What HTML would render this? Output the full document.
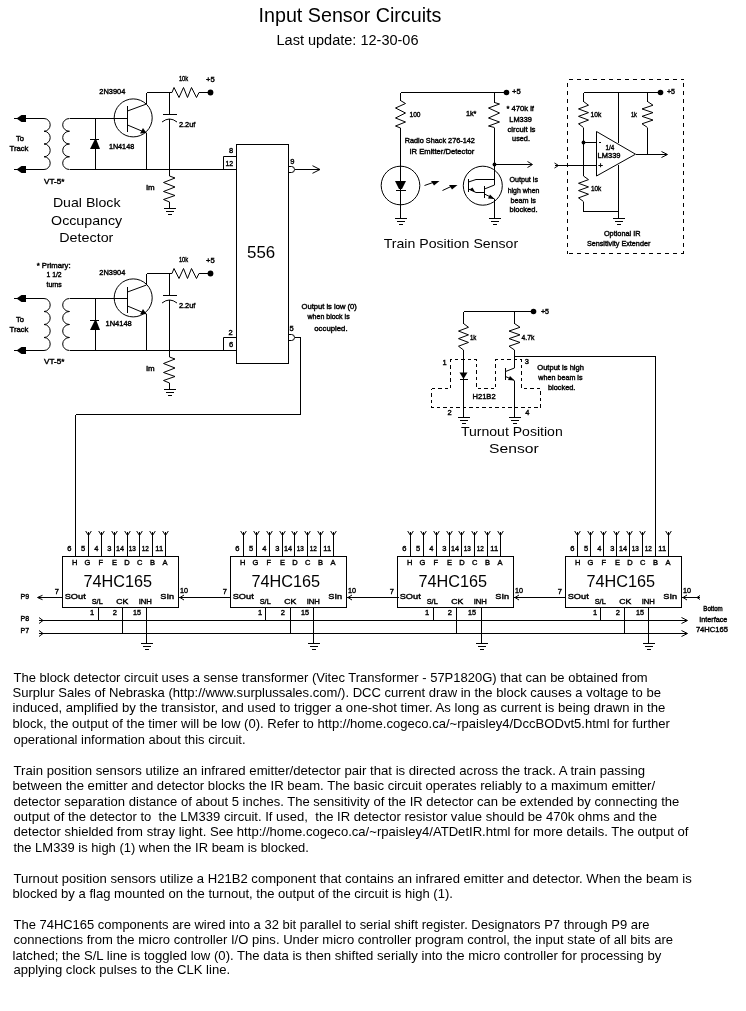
<!DOCTYPE html>
<html><head><meta charset="utf-8"><style>
html,body{margin:0;padding:0;background:#fff;width:746px;height:1011px;overflow:hidden}
svg{position:absolute;left:0;top:0;will-change:transform}
svg line,svg polyline,svg path,svg circle,svg rect{stroke:#000;stroke-width:1;fill:none}
svg .c{shape-rendering:crispEdges}
svg .n{shape-rendering:crispEdges}
svg .f{fill:#000;stroke:none}
svg circle.f{fill:#000;stroke:none}
svg .ol{fill:none;stroke:#000}
svg .p{}
svg .d{stroke-dasharray:3.5 3;shape-rendering:crispEdges}
svg .d4{stroke-dasharray:4 4;shape-rendering:crispEdges}
svg text{font-family:"Liberation Sans",sans-serif;fill:#000}
svg text.s{stroke:#000;stroke-width:0.4px}
svg text.m{}
.p{position:absolute;left:13px;font-family:"Liberation Sans",sans-serif;font-size:13px;line-height:15.4px;color:#000;white-space:pre}
</style></head><body>
<svg width="746" height="1011" viewBox="0 0 746 1011">
<polygon points="16.5,118.5 21.5,115.0 26,115.0 26,122.0 21.5,122.0" class="f"/>
<polygon points="16.5,169.5 21.5,166.0 26,166.0 26,173.0 21.5,173.0" class="f"/>
<line x1="14" y1="118.5" x2="44" y2="118.5" class="c"/>
<line x1="14" y1="169.5" x2="44" y2="169.5" class="c"/>
<path d="M 44 118.5 A 6.2 6.375 0 0 1 44 131.25 A 6.2 6.375 0 0 1 44 144.0 A 6.2 6.375 0 0 1 44 156.75 A 6.2 6.375 0 0 1 44 169.5"/>
<path d="M 69.5 118.5 A 6.8 6.375 0 0 0 69.5 131.25 A 6.8 6.375 0 0 0 69.5 144.0 A 6.8 6.375 0 0 0 69.5 156.75 A 6.8 6.375 0 0 0 69.5 169.5"/>
<line x1="69.5" y1="118.5" x2="127.5" y2="118.5" class="c"/>
<line x1="69.5" y1="169.5" x2="236.5" y2="169.5" class="c"/>
<line x1="95.5" y1="118.5" x2="95.5" y2="169.5" class="c"/>
<polygon points="94.5,140 96.5,140 100,149 90,149" class="f"/>
<line x1="90" y1="139.5" x2="99" y2="139.5" class="c"/>
<circle cx="133.2" cy="117.9" r="19"/>
<line x1="127.5" y1="105.5" x2="127.5" y2="131.5" class="c"/>
<polyline points="127.5,111 146.5,104"/>
<line x1="146.5" y1="104" x2="146.5" y2="92.5" class="c"/>
<line x1="146.5" y1="92.5" x2="169.5" y2="92.5" class="c"/>
<polyline points="127.5,125 146.5,133"/>
<polygon points="146.5,133 140,133.5 143,128" class="f"/>
<line x1="146.5" y1="133" x2="146.5" y2="169.5" class="c"/>
<line x1="169.5" y1="92.5" x2="172" y2="92.5" class="c"/>
<polyline points="172,92.5 174,87.5 179,97.5 183.5,87.5 187.5,97.5 191.5,87.5 196.5,97.5 199,92.5"/>
<line x1="199" y1="92.5" x2="210" y2="92.5" class="c"/>
<circle cx="210.5" cy="92.5" r="2.9" class="f"/>
<line x1="169.5" y1="92.5" x2="169.5" y2="114.5" class="c"/>
<line x1="163" y1="114.5" x2="177" y2="114.5" class="c"/>
<path d="M 162 122 Q 169.5 116 177 122"/>
<line x1="169.5" y1="119" x2="169.5" y2="169.5" class="c"/>
<line x1="169.5" y1="169.5" x2="169.5" y2="176" class="c"/>
<polyline points="169.5,176 175,178 163.5,182.5 175,187 163.5,191.5 175,195.5 163.5,199.5 169.5,202"/>
<line x1="169.5" y1="202" x2="169.5" y2="208.5" class="c"/>
<line x1="163.5" y1="208.5" x2="175.5" y2="208.5" class="c"/>
<line x1="165.5" y1="211.5" x2="173.5" y2="211.5" class="c"/>
<line x1="167.5" y1="214.5" x2="171.5" y2="214.5" class="c"/>
<text id="t0" x="99.30" y="94.10" class="s" style="font-size:7.2px" textLength="26.04" lengthAdjust="spacingAndGlyphs" xml:space="preserve">2N3904</text>
<text id="t1" x="108.90" y="149.00" class="s" style="font-size:7.2px" textLength="25.27" lengthAdjust="spacingAndGlyphs" xml:space="preserve">1N4148</text>
<text id="t2" x="178.90" y="81.00" class="s" style="font-size:7.2px" textLength="9.28" lengthAdjust="spacingAndGlyphs" xml:space="preserve">10k</text>
<text id="t3" x="206.10" y="82.00" class="s" style="font-size:7.2px" textLength="8.68" lengthAdjust="spacingAndGlyphs" xml:space="preserve">+5</text>
<text id="t4" x="178.90" y="126.70" class="s" style="font-size:7.2px" textLength="16.39" lengthAdjust="spacingAndGlyphs" xml:space="preserve">2.2uf</text>
<text id="t5" x="146.30" y="189.90" class="s" style="font-size:7.2px" textLength="8.39" lengthAdjust="spacingAndGlyphs" xml:space="preserve">lm</text>
<text id="t6" x="15.90" y="140.70" class="s" style="font-size:7.2px" textLength="7.99" lengthAdjust="spacingAndGlyphs" xml:space="preserve">To</text>
<text id="t7" x="9.50" y="150.70" class="s" style="font-size:7.2px" textLength="18.89" lengthAdjust="spacingAndGlyphs" xml:space="preserve">Track</text>
<text id="t8" x="44.10" y="183.90" class="s" style="font-size:7.2px" textLength="20.28" lengthAdjust="spacingAndGlyphs" xml:space="preserve">VT-5*</text>
<polygon points="16.5,298.5 21.5,295.0 26,295.0 26,302.0 21.5,302.0" class="f"/>
<polygon points="16.5,350.5 21.5,347.0 26,347.0 26,354.0 21.5,354.0" class="f"/>
<line x1="14" y1="298.5" x2="44" y2="298.5" class="c"/>
<line x1="14" y1="350.5" x2="44" y2="350.5" class="c"/>
<path d="M 44 298.5 A 6.2 6.5 0 0 1 44 311.5 A 6.2 6.5 0 0 1 44 324.5 A 6.2 6.5 0 0 1 44 337.5 A 6.2 6.5 0 0 1 44 350.5"/>
<path d="M 69.5 298.5 A 6.8 6.5 0 0 0 69.5 311.5 A 6.8 6.5 0 0 0 69.5 324.5 A 6.8 6.5 0 0 0 69.5 337.5 A 6.8 6.5 0 0 0 69.5 350.5"/>
<line x1="69.5" y1="298.5" x2="127.5" y2="298.5" class="c"/>
<line x1="69.5" y1="350.5" x2="236.5" y2="350.5" class="c"/>
<line x1="95.5" y1="298.5" x2="95.5" y2="350.5" class="c"/>
<polygon points="94.5,321 96.5,321 100,330 90,330" class="f"/>
<line x1="90" y1="320.5" x2="99" y2="320.5" class="c"/>
<circle cx="133.2" cy="297.9" r="19"/>
<line x1="127.5" y1="286.5" x2="127.5" y2="312.5" class="c"/>
<polyline points="127.5,292 146.5,285"/>
<line x1="146.5" y1="285" x2="146.5" y2="273.5" class="c"/>
<line x1="146.5" y1="273.5" x2="169.5" y2="273.5" class="c"/>
<polyline points="127.5,306 146.5,314"/>
<polygon points="146.5,314 140,314.5 143,309" class="f"/>
<line x1="146.5" y1="314" x2="146.5" y2="350.5" class="c"/>
<line x1="169.5" y1="273.5" x2="172" y2="273.5" class="c"/>
<polyline points="172,273.5 174,268.5 179,278.5 183.5,268.5 187.5,278.5 191.5,268.5 196.5,278.5 199,273.5"/>
<line x1="199" y1="273.5" x2="210" y2="273.5" class="c"/>
<circle cx="210.5" cy="273.5" r="2.9" class="f"/>
<line x1="169.5" y1="273.5" x2="169.5" y2="295.5" class="c"/>
<line x1="163" y1="295.5" x2="177" y2="295.5" class="c"/>
<path d="M 162 303 Q 169.5 297 177 303"/>
<line x1="169.5" y1="300" x2="169.5" y2="350.5" class="c"/>
<line x1="169.5" y1="350.5" x2="169.5" y2="357" class="c"/>
<polyline points="169.5,357 175,359 163.5,363.5 175,368 163.5,372.5 175,376.5 163.5,380.5 169.5,383"/>
<line x1="169.5" y1="383" x2="169.5" y2="389.5" class="c"/>
<line x1="163.5" y1="389.5" x2="175.5" y2="389.5" class="c"/>
<line x1="165.5" y1="392.5" x2="173.5" y2="392.5" class="c"/>
<line x1="167.5" y1="395.5" x2="171.5" y2="395.5" class="c"/>
<text id="t9" x="99.30" y="275.10" class="s" style="font-size:7.2px" textLength="26.04" lengthAdjust="spacingAndGlyphs" xml:space="preserve">2N3904</text>
<text id="t10" x="105.50" y="326.00" class="s" style="font-size:7.2px" textLength="26.28" lengthAdjust="spacingAndGlyphs" xml:space="preserve">1N4148</text>
<text id="t11" x="178.90" y="262.00" class="s" style="font-size:7.2px" textLength="9.28" lengthAdjust="spacingAndGlyphs" xml:space="preserve">10k</text>
<text id="t12" x="206.10" y="263.00" class="s" style="font-size:7.2px" textLength="8.68" lengthAdjust="spacingAndGlyphs" xml:space="preserve">+5</text>
<text id="t13" x="178.90" y="307.70" class="s" style="font-size:7.2px" textLength="16.39" lengthAdjust="spacingAndGlyphs" xml:space="preserve">2.2uf</text>
<text id="t14" x="146.30" y="370.90" class="s" style="font-size:7.2px" textLength="8.39" lengthAdjust="spacingAndGlyphs" xml:space="preserve">lm</text>
<text id="t15" x="15.90" y="321.70" class="s" style="font-size:7.2px" textLength="7.99" lengthAdjust="spacingAndGlyphs" xml:space="preserve">To</text>
<text id="t16" x="9.50" y="331.70" class="s" style="font-size:7.2px" textLength="18.89" lengthAdjust="spacingAndGlyphs" xml:space="preserve">Track</text>
<text id="t17" x="44.10" y="363.90" class="s" style="font-size:7.2px" textLength="20.28" lengthAdjust="spacingAndGlyphs" xml:space="preserve">VT-5*</text>
<text id="t18" x="36.70" y="267.50" class="s" style="font-size:7.2px" textLength="33.90" lengthAdjust="spacingAndGlyphs" xml:space="preserve">* Primary:</text>
<text id="t19" x="46.50" y="277.00" class="s" style="font-size:7.2px" textLength="15.17" lengthAdjust="spacingAndGlyphs" xml:space="preserve">1 1/2</text>
<text id="t20" x="46.50" y="287.00" class="s" style="font-size:7.2px" textLength="15.30" lengthAdjust="spacingAndGlyphs" xml:space="preserve">turns</text>
<text id="t21" x="52.90" y="207.20" class="m" style="font-size:13px" textLength="67.63" lengthAdjust="spacingAndGlyphs" xml:space="preserve">Dual Block</text>
<text id="t22" x="51.10" y="224.50" class="m" style="font-size:13px" textLength="71.07" lengthAdjust="spacingAndGlyphs" xml:space="preserve">Occupancy</text>
<text id="t23" x="59.30" y="242.30" class="m" style="font-size:13px" textLength="54.06" lengthAdjust="spacingAndGlyphs" xml:space="preserve">Detector</text>
<rect x="236.5" y="144.5" width="52" height="219" class="n"/>
<polyline points="236.5,156.5 223.5,156.5 223.5,169.5"/>
<polyline points="236.5,337.5 223.5,337.5 223.5,350.5"/>
<text id="t24" x="247.10" y="258.00" class="m" style="font-size:16px" textLength="28.15" lengthAdjust="spacingAndGlyphs" xml:space="preserve">556</text>
<text id="t25" x="229.10" y="153.10" class="s" style="font-size:7.5px" xml:space="preserve">8</text>
<text id="t26" x="225.50" y="166.20" class="s" style="font-size:7.5px" textLength="7.71" lengthAdjust="spacingAndGlyphs" xml:space="preserve">12</text>
<text id="t27" x="228.50" y="334.50" class="s" style="font-size:7.5px" xml:space="preserve">2</text>
<text id="t28" x="229.00" y="346.80" class="s" style="font-size:7.5px" xml:space="preserve">6</text>
<text id="t29" x="290.25" y="163.90" class="s" style="font-size:7.5px" xml:space="preserve">9</text>
<text id="t30" x="289.60" y="330.50" class="s" style="font-size:7.5px" xml:space="preserve">5</text>
<path d="M 288.5 166.5 H 291.5 Q 294.5 166.5 294.5 169.5 Q 294.5 172.5 291.5 172.5 H 288.5"/>
<line x1="294.5" y1="169.5" x2="320" y2="169.5" class="c"/>
<polyline points="312.5,165.7 320,169.5 312.5,173.3"/>
<path d="M 288.5 334.5 H 291.5 Q 294.5 334.5 294.5 337.5 Q 294.5 340.5 291.5 340.5 H 288.5"/>
<line x1="294.5" y1="337.5" x2="300.5" y2="337.5" class="c"/>
<line x1="300.5" y1="337.5" x2="300.5" y2="414.5" class="c"/>
<line x1="300.5" y1="414.5" x2="75.5" y2="414.5" class="c"/>
<line x1="75.5" y1="414.5" x2="75.5" y2="556.5" class="c"/>
<text id="t31" x="301.50" y="309.20" class="s" style="font-size:7.2px" textLength="55.29" lengthAdjust="spacingAndGlyphs" xml:space="preserve">Output is low (0)</text>
<text id="t32" x="307.50" y="319.00" class="s" style="font-size:7.2px" textLength="42.16" lengthAdjust="spacingAndGlyphs" xml:space="preserve">when block is</text>
<text id="t33" x="314.30" y="330.90" class="s" style="font-size:7.2px" textLength="33.26" lengthAdjust="spacingAndGlyphs" xml:space="preserve">occupied.</text>
<text id="t34" x="258.50" y="21.60" class="mt" style="font-size:21px" textLength="182.84" lengthAdjust="spacingAndGlyphs" xml:space="preserve">Input Sensor Circuits</text>
<text id="t35" x="276.50" y="45.48" class="m" style="font-size:14px" textLength="142.02" lengthAdjust="spacingAndGlyphs" xml:space="preserve">Last update: 12-30-06</text>
<line x1="400.5" y1="92.5" x2="506" y2="92.5" class="c"/>
<circle cx="506.5" cy="92.5" r="2.8" class="f"/>
<text id="t36" x="512.10" y="94.40" class="s" style="font-size:7.2px" textLength="8.69" lengthAdjust="spacingAndGlyphs" xml:space="preserve">+5</text>
<line x1="400.5" y1="92.5" x2="400.5" y2="100.5" class="c"/>
<polyline points="400.5,100.5 405.5,103.5 395.5,108 405.5,113 395.5,118 405.5,122 395.5,126 400.5,128"/>
<line x1="400.5" y1="128" x2="400.5" y2="218.5" class="c"/>
<circle cx="400.5" cy="185.5" r="19.3"/>
<polygon points="395,181 406,181 402,189 399,189" class="f"/>
<line x1="396" y1="190.5" x2="406" y2="190.5" class="c"/>
<line x1="394.5" y1="218.5" x2="406.5" y2="218.5" class="c"/>
<line x1="396.5" y1="221.5" x2="404.5" y2="221.5" class="c"/>
<line x1="398.5" y1="224.5" x2="402.5" y2="224.5" class="c"/>
<text id="t37" x="409.50" y="116.50" class="s" style="font-size:7.2px" textLength="11.00" lengthAdjust="spacingAndGlyphs" xml:space="preserve">100</text>
<text id="t38" x="404.70" y="143.00" class="s" style="font-size:7.2px" textLength="70.23" lengthAdjust="spacingAndGlyphs" xml:space="preserve">Radio Shack 276-142</text>
<text id="t39" x="409.50" y="154.20" class="s" style="font-size:7.2px" textLength="64.81" lengthAdjust="spacingAndGlyphs" xml:space="preserve">IR Emitter/Detector</text>
<line x1="424.5" y1="185.5" x2="433" y2="182.5"/>
<polygon points="431,181 439.5,181 434,185.5" class="f"/>
<line x1="442.5" y1="190.5" x2="451" y2="186.5"/>
<polygon points="449,185 457.5,185 452,189.5" class="f"/>
<line x1="494.5" y1="92.5" x2="494.5" y2="102.5" class="c"/>
<polyline points="494.5,102.5 499.5,104 488.5,108 499.5,113 488.5,118 499.5,122 488.5,126 494.5,127.5"/>
<line x1="494.5" y1="127.5" x2="494.5" y2="178.5" class="c"/>
<circle cx="494.5" cy="164.5" r="1.9" class="f"/>
<line x1="494.5" y1="164.5" x2="532" y2="164.5" class="c"/>
<polyline points="527.5,161.5 532.5,164.5 527.5,167.5"/>
<text id="t40" x="465.90" y="115.80" class="s" style="font-size:7.2px" textLength="10.54" lengthAdjust="spacingAndGlyphs" xml:space="preserve">1k*</text>
<text id="t41" x="506.50" y="110.60" class="s" style="font-size:7.2px" textLength="27.47" lengthAdjust="spacingAndGlyphs" xml:space="preserve">* 470k if</text>
<text id="t42" x="509.30" y="121.90" class="s" style="font-size:7.2px" textLength="22.65" lengthAdjust="spacingAndGlyphs" xml:space="preserve">LM339</text>
<text id="t43" x="507.50" y="131.60" class="s" style="font-size:7.2px" textLength="28.00" lengthAdjust="spacingAndGlyphs" xml:space="preserve">circuit is</text>
<text id="t44" x="512.10" y="141.00" class="s" style="font-size:7.2px" textLength="17.84" lengthAdjust="spacingAndGlyphs" xml:space="preserve">used.</text>
<circle cx="482.8" cy="185.7" r="19.5"/>
<line x1="468.5" y1="179" x2="468.5" y2="191.5" class="c"/>
<polyline points="468.5,182 476,179.5 494.5,179.5"/>
<polyline points="468.5,189 476,192.5 484.5,192.5"/>
<polygon points="475,192 469.5,189.5 472.5,187.5" class="f"/>
<line x1="484.5" y1="185.5" x2="484.5" y2="197.5" class="c"/>
<polyline points="484.5,189 494.5,185 494.5,178.5"/>
<polyline points="484.5,194 494.5,199"/>
<polygon points="494.5,199 488,198.5 490,194.5" class="f"/>
<line x1="494.5" y1="199" x2="494.5" y2="218.5" class="c"/>
<line x1="488.5" y1="218.5" x2="500.5" y2="218.5" class="c"/>
<line x1="490.5" y1="221.5" x2="498.5" y2="221.5" class="c"/>
<line x1="492.5" y1="224.5" x2="496.5" y2="224.5" class="c"/>
<text id="t45" x="509.50" y="181.90" class="s" style="font-size:7.2px" textLength="28.45" lengthAdjust="spacingAndGlyphs" xml:space="preserve">Output is</text>
<text id="t46" x="507.70" y="192.70" class="s" style="font-size:7.2px" textLength="31.70" lengthAdjust="spacingAndGlyphs" xml:space="preserve">high when</text>
<text id="t47" x="510.50" y="202.60" class="s" style="font-size:7.2px" textLength="25.44" lengthAdjust="spacingAndGlyphs" xml:space="preserve">beam is</text>
<text id="t48" x="509.50" y="212.00" class="s" style="font-size:7.2px" textLength="28.00" lengthAdjust="spacingAndGlyphs" xml:space="preserve">blocked.</text>
<text id="t49" x="383.70" y="248.08" class="m" style="font-size:13.3px" textLength="134.43" lengthAdjust="spacingAndGlyphs" xml:space="preserve">Train Position Sensor</text>
<line x1="569" y1="79.5" x2="684" y2="79.5" class="d4"/>
<line x1="567.5" y1="82.5" x2="567.5" y2="254" class="d4"/>
<line x1="683.5" y1="82.5" x2="683.5" y2="254" class="d4"/>
<line x1="569" y1="253.5" x2="684" y2="253.5" class="d4"/>
<line x1="583.5" y1="92.5" x2="660" y2="92.5" class="c"/>
<circle cx="660.5" cy="92.5" r="2.8" class="f"/>
<text id="t50" x="666.90" y="94.00" class="s" style="font-size:7.2px" textLength="8.08" lengthAdjust="spacingAndGlyphs" xml:space="preserve">+5</text>
<line x1="583.5" y1="92.5" x2="583.5" y2="101.5" class="c"/>
<polyline points="583.5,101.5 588.5,105.21 578.5,108.93 588.5,112.64 578.5,116.36 588.5,120.07 578.5,123.79 583.5,127.5"/>
<line x1="583.5" y1="127.5" x2="583.5" y2="176" class="c"/>
<circle cx="583.5" cy="142.5" r="1.9" class="f"/>
<line x1="583.5" y1="142.5" x2="596.5" y2="142.5" class="c"/>
<polyline points="583.5,176 588.5,179.64 578.5,183.29 588.5,186.93 578.5,190.57 588.5,194.21 578.5,197.86 583.5,201.5"/>
<line x1="583.5" y1="201.5" x2="583.5" y2="211.5" class="c"/>
<line x1="583.5" y1="211.5" x2="618.5" y2="211.5" class="c"/>
<line x1="618.5" y1="92.5" x2="618.5" y2="143" class="c"/>
<line x1="618.5" y1="165" x2="618.5" y2="218.5" class="c"/>
<line x1="612.5" y1="218.5" x2="624.5" y2="218.5" class="c"/>
<line x1="614.5" y1="221.5" x2="622.5" y2="221.5" class="c"/>
<line x1="616.5" y1="224.5" x2="620.5" y2="224.5" class="c"/>
<line x1="647.5" y1="92.5" x2="647.5" y2="101.5" class="c"/>
<polyline points="647.5,101.5 653.0,105.21 642.0,108.93 653.0,112.64 642.0,116.36 653.0,120.07 642.0,123.79 647.5,127.5"/>
<line x1="647.5" y1="127.5" x2="647.5" y2="154.5" class="c"/>
<polygon points="596.5,131.5 635.5,154.2 596.5,176" class="ol"/>
<line x1="636" y1="154.5" x2="667" y2="154.5" class="c"/>
<polyline points="661.5,151.5 667.5,154.5 661.5,157.5"/>
<line x1="555" y1="165.5" x2="596.5" y2="165.5" class="c"/>
<polyline points="554.5,163.0 558.5,165.5 554.5,168.0"/>
<text id="t51" x="590.50" y="116.90" class="s" style="font-size:7.2px" textLength="10.71" lengthAdjust="spacingAndGlyphs" xml:space="preserve">10k</text>
<text id="t52" x="630.90" y="116.90" class="s" style="font-size:7.2px" textLength="6.05" lengthAdjust="spacingAndGlyphs" xml:space="preserve">1k</text>
<text id="t53" x="590.90" y="190.60" class="s" style="font-size:7.2px" textLength="10.33" lengthAdjust="spacingAndGlyphs" xml:space="preserve">10k</text>
<line x1="598.5" y1="142.5" x2="601" y2="142.5" class="c"/>
<text id="t54" x="598.30" y="168.00" class="s" style="font-size:8px" xml:space="preserve">+</text>
<text id="t55" x="605.50" y="149.60" class="s" style="font-size:7.2px" textLength="8.73" lengthAdjust="spacingAndGlyphs" xml:space="preserve">1/4</text>
<text id="t56" x="597.50" y="158.40" class="s" style="font-size:7.2px" textLength="23.00" lengthAdjust="spacingAndGlyphs" xml:space="preserve">LM339</text>
<text id="t57" x="603.90" y="235.90" class="s" style="font-size:7.2px" textLength="36.64" lengthAdjust="spacingAndGlyphs" xml:space="preserve">Optional IR</text>
<text id="t58" x="586.90" y="246.00" class="s" style="font-size:7.2px" textLength="63.45" lengthAdjust="spacingAndGlyphs" xml:space="preserve">Sensitivity Extender</text>
<line x1="463.5" y1="311.5" x2="533" y2="311.5" class="c"/>
<circle cx="533.5" cy="311.5" r="2.8" class="f"/>
<text id="t59" x="540.90" y="313.60" class="s" style="font-size:7.2px" textLength="8.08" lengthAdjust="spacingAndGlyphs" xml:space="preserve">+5</text>
<line x1="463.5" y1="311.5" x2="463.5" y2="323.5" class="c"/>
<polyline points="463.5,323.5 468.5,327.29 458.5,331.07 468.5,334.86 458.5,338.64 468.5,342.43 458.5,346.21 463.5,350"/>
<line x1="463.5" y1="350" x2="463.5" y2="417.5" class="c"/>
<polygon points="459.5,372.5 467.5,372.5 463.5,379" class="f"/>
<line x1="459.5" y1="379.5" x2="467.5" y2="379.5" class="c"/>
<line x1="457.5" y1="417.5" x2="469.5" y2="417.5" class="c"/>
<line x1="459.5" y1="420.5" x2="467.5" y2="420.5" class="c"/>
<line x1="461.5" y1="423.5" x2="465.5" y2="423.5" class="c"/>
<line x1="514.5" y1="311.5" x2="514.5" y2="323.5" class="c"/>
<polyline points="514.5,323.5 520.0,327.29 509.0,331.07 520.0,334.86 509.0,338.64 520.0,342.43 509.0,346.21 514.5,350"/>
<line x1="514.5" y1="350" x2="514.5" y2="368" class="c"/>
<line x1="514.5" y1="356.5" x2="655.5" y2="356.5" class="c"/>
<line x1="655.5" y1="356.5" x2="655.5" y2="556.5" class="c"/>
<line x1="505.5" y1="368" x2="505.5" y2="380" class="c"/>
<polyline points="505.5,371.5 514.5,368"/>
<polyline points="505.5,376.5 514.5,380.5"/>
<polygon points="514.5,380.5 508,380 510,376" class="f"/>
<line x1="514.5" y1="380.5" x2="514.5" y2="417.5" class="c"/>
<line x1="508.5" y1="417.5" x2="520.5" y2="417.5" class="c"/>
<line x1="510.5" y1="420.5" x2="518.5" y2="420.5" class="c"/>
<line x1="512.5" y1="423.5" x2="516.5" y2="423.5" class="c"/>
<polyline points="431.5,388.5 450.5,388.5 450.5,359.5 476.5,359.5 476.5,388.5 495.5,388.5 495.5,359.5 521.5,359.5 521.5,388.5 540.5,388.5 540.5,407.5 431.5,407.5 431.5,388.5" class="d"/>
<text id="t60" x="469.90" y="339.50" class="s" style="font-size:7.2px" textLength="6.40" lengthAdjust="spacingAndGlyphs" xml:space="preserve">1k</text>
<text id="t61" x="521.50" y="339.50" class="s" style="font-size:7.2px" textLength="12.84" lengthAdjust="spacingAndGlyphs" xml:space="preserve">4.7k</text>
<text id="t62" x="442.50" y="364.90" class="s" style="font-size:7.5px" xml:space="preserve">1</text>
<text id="t63" x="524.65" y="364.20" class="s" style="font-size:7.5px" xml:space="preserve">3</text>
<text id="t64" x="447.40" y="415.30" class="s" style="font-size:7.5px" xml:space="preserve">2</text>
<text id="t65" x="525.30" y="415.30" class="s" style="font-size:7.5px" xml:space="preserve">4</text>
<text id="t66" x="472.50" y="398.50" class="s" style="font-size:7.2px" textLength="23.08" lengthAdjust="spacingAndGlyphs" xml:space="preserve">H21B2</text>
<text id="t67" x="537.30" y="370.20" class="s" style="font-size:7.2px" textLength="46.62" lengthAdjust="spacingAndGlyphs" xml:space="preserve">Output is high</text>
<text id="t68" x="538.30" y="380.00" class="s" style="font-size:7.2px" textLength="44.24" lengthAdjust="spacingAndGlyphs" xml:space="preserve">when beam is</text>
<text id="t69" x="547.90" y="390.10" class="s" style="font-size:7.2px" textLength="27.51" lengthAdjust="spacingAndGlyphs" xml:space="preserve">blocked.</text>
<text id="t70" x="460.90" y="436.48" class="m" style="font-size:13.3px" textLength="101.82" lengthAdjust="spacingAndGlyphs" xml:space="preserve">Turnout Position</text>
<text id="t71" x="489.10" y="453.28" class="m" style="font-size:13.3px" textLength="49.66" lengthAdjust="spacingAndGlyphs" xml:space="preserve">Sensor</text>
<rect x="62.5" y="556.5" width="116" height="51" class="n"/>
<text id="t72" x="72.00" y="564.50" class="s" style="font-size:7.5px" xml:space="preserve">H</text>
<text id="t73" x="67.30" y="551.40" class="s" style="font-size:7.5px" xml:space="preserve">6</text>
<line x1="88.5" y1="531.5" x2="88.5" y2="556.5" class="c"/>
<polyline points="85.7,531 88.5,535.5 91.3,531"/>
<text id="t74" x="84.60" y="564.50" class="s" style="font-size:7.5px" xml:space="preserve">G</text>
<text id="t75" x="80.90" y="551.40" class="s" style="font-size:7.5px" xml:space="preserve">5</text>
<line x1="101.5" y1="531.5" x2="101.5" y2="556.5" class="c"/>
<polyline points="98.7,531 101.5,535.5 104.3,531"/>
<text id="t76" x="98.55" y="564.50" class="s" style="font-size:7.5px" xml:space="preserve">F</text>
<text id="t77" x="94.20" y="551.40" class="s" style="font-size:7.5px" xml:space="preserve">4</text>
<line x1="114.5" y1="531.5" x2="114.5" y2="556.5" class="c"/>
<polyline points="111.7,531 114.5,535.5 117.3,531"/>
<text id="t78" x="112.05" y="564.50" class="s" style="font-size:7.5px" xml:space="preserve">E</text>
<text id="t79" x="107.20" y="551.40" class="s" style="font-size:7.5px" xml:space="preserve">3</text>
<line x1="127.5" y1="531.5" x2="127.5" y2="556.5" class="c"/>
<polyline points="124.7,531 127.5,535.5 130.3,531"/>
<text id="t80" x="124.15" y="564.50" class="s" style="font-size:7.5px" xml:space="preserve">D</text>
<text id="t81" x="116.10" y="551.40" class="s" style="font-size:7.5px" textLength="8.05" lengthAdjust="spacingAndGlyphs" xml:space="preserve">14</text>
<line x1="139.5" y1="531.5" x2="139.5" y2="556.5" class="c"/>
<polyline points="136.7,531 139.5,535.5 142.3,531"/>
<text id="t82" x="137.00" y="564.50" class="s" style="font-size:7.5px" xml:space="preserve">C</text>
<text id="t83" x="128.70" y="551.40" class="s" style="font-size:7.5px" textLength="7.15" lengthAdjust="spacingAndGlyphs" xml:space="preserve">13</text>
<line x1="152.5" y1="531.5" x2="152.5" y2="556.5" class="c"/>
<polyline points="149.7,531 152.5,535.5 155.3,531"/>
<text id="t84" x="150.05" y="564.50" class="s" style="font-size:7.5px" xml:space="preserve">B</text>
<text id="t85" x="141.70" y="551.40" class="s" style="font-size:7.5px" textLength="7.15" lengthAdjust="spacingAndGlyphs" xml:space="preserve">12</text>
<line x1="165.5" y1="531.5" x2="165.5" y2="556.5" class="c"/>
<polyline points="162.7,531 165.5,535.5 168.3,531"/>
<text id="t86" x="162.60" y="564.50" class="s" style="font-size:7.5px" xml:space="preserve">A</text>
<text id="t87" x="155.30" y="551.40" class="s" style="font-size:7.5px" textLength="7.84" lengthAdjust="spacingAndGlyphs" xml:space="preserve">11</text>
<text id="t88" x="83.50" y="586.92" class="m" style="font-size:16px" textLength="68.65" lengthAdjust="spacingAndGlyphs" xml:space="preserve">74HC165</text>
<text id="t89" x="64.70" y="599.30" class="s" style="font-size:7.5px" textLength="21.04" lengthAdjust="spacingAndGlyphs" xml:space="preserve">SOut</text>
<text id="t90" x="160.30" y="599.20" class="s" style="font-size:7.5px" textLength="13.80" lengthAdjust="spacingAndGlyphs" xml:space="preserve">SIn</text>
<text id="t91" x="91.70" y="604.00" class="s" style="font-size:7.5px" textLength="11.09" lengthAdjust="spacingAndGlyphs" xml:space="preserve">S/L</text>
<text id="t92" x="116.30" y="604.00" class="s" style="font-size:7.5px" textLength="12.08" lengthAdjust="spacingAndGlyphs" xml:space="preserve">CK</text>
<text id="t93" x="138.70" y="603.60" class="s" style="font-size:7.5px" textLength="13.23" lengthAdjust="spacingAndGlyphs" xml:space="preserve">INH</text>
<line x1="98.5" y1="607.5" x2="98.5" y2="620.5" class="c"/>
<line x1="122.5" y1="607.5" x2="122.5" y2="633.5" class="c"/>
<line x1="146.5" y1="607.5" x2="146.5" y2="643.5" class="c"/>
<line x1="140.5" y1="643.5" x2="152.5" y2="643.5" class="c"/>
<line x1="142.5" y1="646.5" x2="150.5" y2="646.5" class="c"/>
<line x1="144.5" y1="649.5" x2="148.5" y2="649.5" class="c"/>
<text id="t94" x="90.10" y="615.40" class="s" style="font-size:7.5px" xml:space="preserve">1</text>
<text id="t95" x="112.70" y="615.40" class="s" style="font-size:7.5px" xml:space="preserve">2</text>
<text id="t96" x="133.10" y="614.90" class="s" style="font-size:7.5px" textLength="8.01" lengthAdjust="spacingAndGlyphs" xml:space="preserve">15</text>
<text id="t97" x="54.75" y="593.70" class="s" style="font-size:7.5px" xml:space="preserve">7</text>
<text id="t98" x="180.10" y="592.80" class="s" style="font-size:7.5px" textLength="8.05" lengthAdjust="spacingAndGlyphs" xml:space="preserve">10</text>
<polyline points="184.0,595.0 180.0,597.5 184.0,600.0"/>
<rect x="230.5" y="556.5" width="116" height="51" class="n"/>
<line x1="243.5" y1="531.5" x2="243.5" y2="556.5" class="c"/>
<polyline points="240.7,531 243.5,535.5 246.3,531"/>
<text id="t99" x="240.00" y="564.50" class="s" style="font-size:7.5px" xml:space="preserve">H</text>
<text id="t100" x="235.30" y="551.40" class="s" style="font-size:7.5px" xml:space="preserve">6</text>
<line x1="256.5" y1="531.5" x2="256.5" y2="556.5" class="c"/>
<polyline points="253.7,531 256.5,535.5 259.3,531"/>
<text id="t101" x="252.60" y="564.50" class="s" style="font-size:7.5px" xml:space="preserve">G</text>
<text id="t102" x="248.90" y="551.40" class="s" style="font-size:7.5px" xml:space="preserve">5</text>
<line x1="269.5" y1="531.5" x2="269.5" y2="556.5" class="c"/>
<polyline points="266.7,531 269.5,535.5 272.3,531"/>
<text id="t103" x="266.55" y="564.50" class="s" style="font-size:7.5px" xml:space="preserve">F</text>
<text id="t104" x="262.20" y="551.40" class="s" style="font-size:7.5px" xml:space="preserve">4</text>
<line x1="282.5" y1="531.5" x2="282.5" y2="556.5" class="c"/>
<polyline points="279.7,531 282.5,535.5 285.3,531"/>
<text id="t105" x="280.05" y="564.50" class="s" style="font-size:7.5px" xml:space="preserve">E</text>
<text id="t106" x="275.20" y="551.40" class="s" style="font-size:7.5px" xml:space="preserve">3</text>
<line x1="294.5" y1="531.5" x2="294.5" y2="556.5" class="c"/>
<polyline points="291.7,531 294.5,535.5 297.3,531"/>
<text id="t107" x="292.15" y="564.50" class="s" style="font-size:7.5px" xml:space="preserve">D</text>
<text id="t108" x="284.10" y="551.40" class="s" style="font-size:7.5px" textLength="8.05" lengthAdjust="spacingAndGlyphs" xml:space="preserve">14</text>
<line x1="307.5" y1="531.5" x2="307.5" y2="556.5" class="c"/>
<polyline points="304.7,531 307.5,535.5 310.3,531"/>
<text id="t109" x="305.00" y="564.50" class="s" style="font-size:7.5px" xml:space="preserve">C</text>
<text id="t110" x="296.70" y="551.40" class="s" style="font-size:7.5px" textLength="7.15" lengthAdjust="spacingAndGlyphs" xml:space="preserve">13</text>
<line x1="320.5" y1="531.5" x2="320.5" y2="556.5" class="c"/>
<polyline points="317.7,531 320.5,535.5 323.3,531"/>
<text id="t111" x="318.05" y="564.50" class="s" style="font-size:7.5px" xml:space="preserve">B</text>
<text id="t112" x="309.70" y="551.40" class="s" style="font-size:7.5px" textLength="7.15" lengthAdjust="spacingAndGlyphs" xml:space="preserve">12</text>
<line x1="333.5" y1="531.5" x2="333.5" y2="556.5" class="c"/>
<polyline points="330.7,531 333.5,535.5 336.3,531"/>
<text id="t113" x="330.60" y="564.50" class="s" style="font-size:7.5px" xml:space="preserve">A</text>
<text id="t114" x="323.30" y="551.40" class="s" style="font-size:7.5px" textLength="7.84" lengthAdjust="spacingAndGlyphs" xml:space="preserve">11</text>
<text id="t115" x="251.50" y="586.92" class="m" style="font-size:16px" textLength="68.65" lengthAdjust="spacingAndGlyphs" xml:space="preserve">74HC165</text>
<text id="t116" x="232.70" y="599.30" class="s" style="font-size:7.5px" textLength="21.04" lengthAdjust="spacingAndGlyphs" xml:space="preserve">SOut</text>
<text id="t117" x="328.30" y="599.20" class="s" style="font-size:7.5px" textLength="13.80" lengthAdjust="spacingAndGlyphs" xml:space="preserve">SIn</text>
<text id="t118" x="259.70" y="604.00" class="s" style="font-size:7.5px" textLength="11.09" lengthAdjust="spacingAndGlyphs" xml:space="preserve">S/L</text>
<text id="t119" x="284.30" y="604.00" class="s" style="font-size:7.5px" textLength="12.08" lengthAdjust="spacingAndGlyphs" xml:space="preserve">CK</text>
<text id="t120" x="306.70" y="603.60" class="s" style="font-size:7.5px" textLength="13.23" lengthAdjust="spacingAndGlyphs" xml:space="preserve">INH</text>
<line x1="265.5" y1="607.5" x2="265.5" y2="620.5" class="c"/>
<line x1="290.5" y1="607.5" x2="290.5" y2="633.5" class="c"/>
<line x1="313.5" y1="607.5" x2="313.5" y2="643.5" class="c"/>
<line x1="307.5" y1="643.5" x2="319.5" y2="643.5" class="c"/>
<line x1="309.5" y1="646.5" x2="317.5" y2="646.5" class="c"/>
<line x1="311.5" y1="649.5" x2="315.5" y2="649.5" class="c"/>
<text id="t121" x="258.10" y="615.40" class="s" style="font-size:7.5px" xml:space="preserve">1</text>
<text id="t122" x="280.70" y="615.40" class="s" style="font-size:7.5px" xml:space="preserve">2</text>
<text id="t123" x="301.10" y="614.90" class="s" style="font-size:7.5px" textLength="8.01" lengthAdjust="spacingAndGlyphs" xml:space="preserve">15</text>
<text id="t124" x="222.75" y="593.70" class="s" style="font-size:7.5px" xml:space="preserve">7</text>
<text id="t125" x="348.10" y="592.80" class="s" style="font-size:7.5px" textLength="8.05" lengthAdjust="spacingAndGlyphs" xml:space="preserve">10</text>
<polyline points="352.0,595.0 348.0,597.5 352.0,600.0"/>
<rect x="397.5" y="556.5" width="116" height="51" class="n"/>
<line x1="410.5" y1="531.5" x2="410.5" y2="556.5" class="c"/>
<polyline points="407.7,531 410.5,535.5 413.3,531"/>
<text id="t126" x="407.00" y="564.50" class="s" style="font-size:7.5px" xml:space="preserve">H</text>
<text id="t127" x="402.30" y="551.40" class="s" style="font-size:7.5px" xml:space="preserve">6</text>
<line x1="423.5" y1="531.5" x2="423.5" y2="556.5" class="c"/>
<polyline points="420.7,531 423.5,535.5 426.3,531"/>
<text id="t128" x="419.60" y="564.50" class="s" style="font-size:7.5px" xml:space="preserve">G</text>
<text id="t129" x="415.90" y="551.40" class="s" style="font-size:7.5px" xml:space="preserve">5</text>
<line x1="436.5" y1="531.5" x2="436.5" y2="556.5" class="c"/>
<polyline points="433.7,531 436.5,535.5 439.3,531"/>
<text id="t130" x="433.55" y="564.50" class="s" style="font-size:7.5px" xml:space="preserve">F</text>
<text id="t131" x="429.20" y="551.40" class="s" style="font-size:7.5px" xml:space="preserve">4</text>
<line x1="449.5" y1="531.5" x2="449.5" y2="556.5" class="c"/>
<polyline points="446.7,531 449.5,535.5 452.3,531"/>
<text id="t132" x="447.05" y="564.50" class="s" style="font-size:7.5px" xml:space="preserve">E</text>
<text id="t133" x="442.20" y="551.40" class="s" style="font-size:7.5px" xml:space="preserve">3</text>
<line x1="461.5" y1="531.5" x2="461.5" y2="556.5" class="c"/>
<polyline points="458.7,531 461.5,535.5 464.3,531"/>
<text id="t134" x="459.15" y="564.50" class="s" style="font-size:7.5px" xml:space="preserve">D</text>
<text id="t135" x="451.10" y="551.40" class="s" style="font-size:7.5px" textLength="8.05" lengthAdjust="spacingAndGlyphs" xml:space="preserve">14</text>
<line x1="474.5" y1="531.5" x2="474.5" y2="556.5" class="c"/>
<polyline points="471.7,531 474.5,535.5 477.3,531"/>
<text id="t136" x="472.00" y="564.50" class="s" style="font-size:7.5px" xml:space="preserve">C</text>
<text id="t137" x="463.70" y="551.40" class="s" style="font-size:7.5px" textLength="7.15" lengthAdjust="spacingAndGlyphs" xml:space="preserve">13</text>
<line x1="487.5" y1="531.5" x2="487.5" y2="556.5" class="c"/>
<polyline points="484.7,531 487.5,535.5 490.3,531"/>
<text id="t138" x="485.05" y="564.50" class="s" style="font-size:7.5px" xml:space="preserve">B</text>
<text id="t139" x="476.70" y="551.40" class="s" style="font-size:7.5px" textLength="7.15" lengthAdjust="spacingAndGlyphs" xml:space="preserve">12</text>
<line x1="500.5" y1="531.5" x2="500.5" y2="556.5" class="c"/>
<polyline points="497.7,531 500.5,535.5 503.3,531"/>
<text id="t140" x="497.60" y="564.50" class="s" style="font-size:7.5px" xml:space="preserve">A</text>
<text id="t141" x="490.30" y="551.40" class="s" style="font-size:7.5px" textLength="7.84" lengthAdjust="spacingAndGlyphs" xml:space="preserve">11</text>
<text id="t142" x="418.50" y="586.92" class="m" style="font-size:16px" textLength="68.65" lengthAdjust="spacingAndGlyphs" xml:space="preserve">74HC165</text>
<text id="t143" x="399.70" y="599.30" class="s" style="font-size:7.5px" textLength="21.04" lengthAdjust="spacingAndGlyphs" xml:space="preserve">SOut</text>
<text id="t144" x="495.30" y="599.20" class="s" style="font-size:7.5px" textLength="13.80" lengthAdjust="spacingAndGlyphs" xml:space="preserve">SIn</text>
<text id="t145" x="426.70" y="604.00" class="s" style="font-size:7.5px" textLength="11.09" lengthAdjust="spacingAndGlyphs" xml:space="preserve">S/L</text>
<text id="t146" x="451.30" y="604.00" class="s" style="font-size:7.5px" textLength="12.08" lengthAdjust="spacingAndGlyphs" xml:space="preserve">CK</text>
<text id="t147" x="473.70" y="603.60" class="s" style="font-size:7.5px" textLength="13.23" lengthAdjust="spacingAndGlyphs" xml:space="preserve">INH</text>
<line x1="433.5" y1="607.5" x2="433.5" y2="620.5" class="c"/>
<line x1="456.5" y1="607.5" x2="456.5" y2="633.5" class="c"/>
<line x1="481.5" y1="607.5" x2="481.5" y2="643.5" class="c"/>
<line x1="475.5" y1="643.5" x2="487.5" y2="643.5" class="c"/>
<line x1="477.5" y1="646.5" x2="485.5" y2="646.5" class="c"/>
<line x1="479.5" y1="649.5" x2="483.5" y2="649.5" class="c"/>
<text id="t148" x="425.10" y="615.40" class="s" style="font-size:7.5px" xml:space="preserve">1</text>
<text id="t149" x="447.70" y="615.40" class="s" style="font-size:7.5px" xml:space="preserve">2</text>
<text id="t150" x="468.10" y="614.90" class="s" style="font-size:7.5px" textLength="8.01" lengthAdjust="spacingAndGlyphs" xml:space="preserve">15</text>
<text id="t151" x="389.75" y="593.70" class="s" style="font-size:7.5px" xml:space="preserve">7</text>
<text id="t152" x="515.10" y="592.80" class="s" style="font-size:7.5px" textLength="8.05" lengthAdjust="spacingAndGlyphs" xml:space="preserve">10</text>
<polyline points="519.0,595.0 515.0,597.5 519.0,600.0"/>
<rect x="565.5" y="556.5" width="116" height="51" class="n"/>
<line x1="577.5" y1="531.5" x2="577.5" y2="556.5" class="c"/>
<polyline points="574.7,531 577.5,535.5 580.3,531"/>
<text id="t153" x="575.00" y="564.50" class="s" style="font-size:7.5px" xml:space="preserve">H</text>
<text id="t154" x="570.30" y="551.40" class="s" style="font-size:7.5px" xml:space="preserve">6</text>
<line x1="590.5" y1="531.5" x2="590.5" y2="556.5" class="c"/>
<polyline points="587.7,531 590.5,535.5 593.3,531"/>
<text id="t155" x="587.60" y="564.50" class="s" style="font-size:7.5px" xml:space="preserve">G</text>
<text id="t156" x="583.90" y="551.40" class="s" style="font-size:7.5px" xml:space="preserve">5</text>
<line x1="603.5" y1="531.5" x2="603.5" y2="556.5" class="c"/>
<polyline points="600.7,531 603.5,535.5 606.3,531"/>
<text id="t157" x="601.55" y="564.50" class="s" style="font-size:7.5px" xml:space="preserve">F</text>
<text id="t158" x="597.20" y="551.40" class="s" style="font-size:7.5px" xml:space="preserve">4</text>
<line x1="616.5" y1="531.5" x2="616.5" y2="556.5" class="c"/>
<polyline points="613.7,531 616.5,535.5 619.3,531"/>
<text id="t159" x="615.05" y="564.50" class="s" style="font-size:7.5px" xml:space="preserve">E</text>
<text id="t160" x="610.20" y="551.40" class="s" style="font-size:7.5px" xml:space="preserve">3</text>
<line x1="629.5" y1="531.5" x2="629.5" y2="556.5" class="c"/>
<polyline points="626.7,531 629.5,535.5 632.3,531"/>
<text id="t161" x="627.15" y="564.50" class="s" style="font-size:7.5px" xml:space="preserve">D</text>
<text id="t162" x="619.10" y="551.40" class="s" style="font-size:7.5px" textLength="8.05" lengthAdjust="spacingAndGlyphs" xml:space="preserve">14</text>
<line x1="642.5" y1="531.5" x2="642.5" y2="556.5" class="c"/>
<polyline points="639.7,531 642.5,535.5 645.3,531"/>
<text id="t163" x="640.00" y="564.50" class="s" style="font-size:7.5px" xml:space="preserve">C</text>
<text id="t164" x="631.70" y="551.40" class="s" style="font-size:7.5px" textLength="7.15" lengthAdjust="spacingAndGlyphs" xml:space="preserve">13</text>
<text id="t165" x="653.05" y="564.50" class="s" style="font-size:7.5px" xml:space="preserve">B</text>
<text id="t166" x="644.70" y="551.40" class="s" style="font-size:7.5px" textLength="7.15" lengthAdjust="spacingAndGlyphs" xml:space="preserve">12</text>
<line x1="668.5" y1="531.5" x2="668.5" y2="556.5" class="c"/>
<polyline points="665.7,531 668.5,535.5 671.3,531"/>
<text id="t167" x="665.60" y="564.50" class="s" style="font-size:7.5px" xml:space="preserve">A</text>
<text id="t168" x="658.30" y="551.40" class="s" style="font-size:7.5px" textLength="7.84" lengthAdjust="spacingAndGlyphs" xml:space="preserve">11</text>
<text id="t169" x="586.50" y="586.92" class="m" style="font-size:16px" textLength="68.65" lengthAdjust="spacingAndGlyphs" xml:space="preserve">74HC165</text>
<text id="t170" x="567.70" y="599.30" class="s" style="font-size:7.5px" textLength="21.04" lengthAdjust="spacingAndGlyphs" xml:space="preserve">SOut</text>
<text id="t171" x="663.30" y="599.20" class="s" style="font-size:7.5px" textLength="13.80" lengthAdjust="spacingAndGlyphs" xml:space="preserve">SIn</text>
<text id="t172" x="594.70" y="604.00" class="s" style="font-size:7.5px" textLength="11.09" lengthAdjust="spacingAndGlyphs" xml:space="preserve">S/L</text>
<text id="t173" x="619.30" y="604.00" class="s" style="font-size:7.5px" textLength="12.08" lengthAdjust="spacingAndGlyphs" xml:space="preserve">CK</text>
<text id="t174" x="641.70" y="603.60" class="s" style="font-size:7.5px" textLength="13.23" lengthAdjust="spacingAndGlyphs" xml:space="preserve">INH</text>
<line x1="600.5" y1="607.5" x2="600.5" y2="620.5" class="c"/>
<line x1="624.5" y1="607.5" x2="624.5" y2="633.5" class="c"/>
<line x1="648.5" y1="607.5" x2="648.5" y2="643.5" class="c"/>
<line x1="642.5" y1="643.5" x2="654.5" y2="643.5" class="c"/>
<line x1="644.5" y1="646.5" x2="652.5" y2="646.5" class="c"/>
<line x1="646.5" y1="649.5" x2="650.5" y2="649.5" class="c"/>
<text id="t175" x="593.10" y="615.40" class="s" style="font-size:7.5px" xml:space="preserve">1</text>
<text id="t176" x="615.70" y="615.40" class="s" style="font-size:7.5px" xml:space="preserve">2</text>
<text id="t177" x="636.10" y="614.90" class="s" style="font-size:7.5px" textLength="8.01" lengthAdjust="spacingAndGlyphs" xml:space="preserve">15</text>
<text id="t178" x="557.75" y="593.70" class="s" style="font-size:7.5px" xml:space="preserve">7</text>
<text id="t179" x="683.10" y="592.80" class="s" style="font-size:7.5px" textLength="8.05" lengthAdjust="spacingAndGlyphs" xml:space="preserve">10</text>
<polyline points="687.0,595.0 683.0,597.5 687.0,600.0"/>
<line x1="37.5" y1="597.5" x2="62.5" y2="597.5" class="c"/>
<polyline points="42.5,595.3 37.5,597.5 42.5,599.7"/>
<line x1="178.5" y1="597.5" x2="230.5" y2="597.5" class="c"/>
<line x1="346.5" y1="597.5" x2="398.5" y2="597.5" class="c"/>
<line x1="513.5" y1="597.5" x2="565.5" y2="597.5" class="c"/>
<line x1="681.5" y1="597.5" x2="699.5" y2="597.5" class="c"/>
<polyline points="700,595.5 697,597.5 700,599.5"/>
<line x1="39" y1="620.5" x2="687" y2="620.5" class="c"/>
<line x1="39" y1="633.5" x2="687" y2="633.5" class="c"/>
<polyline points="39,617.5 43,620.5 39,623.5"/>
<polyline points="39,630.5 43,633.5 39,636.5"/>
<polyline points="681.5,617.5 687.5,620.5 681.5,623.5"/>
<polyline points="681.5,630.5 687.5,633.5 681.5,636.5"/>
<text id="t180" x="20.50" y="599.30" class="s" style="font-size:7.5px" textLength="8.58" lengthAdjust="spacingAndGlyphs" xml:space="preserve">P9</text>
<text id="t181" x="20.50" y="621.20" class="s" style="font-size:7.5px" textLength="8.58" lengthAdjust="spacingAndGlyphs" xml:space="preserve">P8</text>
<text id="t182" x="20.50" y="633.40" class="s" style="font-size:7.5px" textLength="8.58" lengthAdjust="spacingAndGlyphs" xml:space="preserve">P7</text>
<text id="t183" x="703.30" y="611.40" class="s" style="font-size:7.2px" textLength="19.44" lengthAdjust="spacingAndGlyphs" xml:space="preserve">Bottom</text>
<text id="t184" x="699.30" y="621.60" class="s" style="font-size:7.2px" textLength="28.07" lengthAdjust="spacingAndGlyphs" xml:space="preserve">Interface</text>
<text id="t185" x="695.90" y="632.00" class="s" style="font-size:7.2px" textLength="32.06" lengthAdjust="spacingAndGlyphs" xml:space="preserve">74HC165</text>
<text id="t186" x="13.50" y="682.20" class="p" style="font-size:13.5px" textLength="634.20" lengthAdjust="spacingAndGlyphs" xml:space="preserve">The block detector circuit uses a sense transformer (Vitec Transformer - 57P1820G) that can be obtained from</text>
<text id="t187" x="12.50" y="697.20" class="p" style="font-size:13.5px" textLength="648.40" lengthAdjust="spacingAndGlyphs" xml:space="preserve">Surplur Sales of Nebraska (http://www.surplussales.com/). DCC current draw in the block causes a voltage to be</text>
<text id="t188" x="12.50" y="712.20" class="p" style="font-size:13.5px" textLength="652.80" lengthAdjust="spacingAndGlyphs" xml:space="preserve">induced, amplified by the transistor, and used to trigger a one-shot timer. As long as current is being drawn in the</text>
<text id="t189" x="12.50" y="727.50" class="p" style="font-size:13.5px" textLength="657.40" lengthAdjust="spacingAndGlyphs" xml:space="preserve">block, the output of the timer will be low (0). Refer to http://home.cogeco.ca/~rpaisley4/DccBODvt5.html for further</text>
<text id="t190" x="13.50" y="743.50" class="p" style="font-size:13.5px" textLength="232.01" lengthAdjust="spacingAndGlyphs" xml:space="preserve">operational information about this circuit.</text>
<text id="t191" x="13.50" y="775.20" class="p" style="font-size:13.5px" textLength="631.60" lengthAdjust="spacingAndGlyphs" xml:space="preserve">Train position sensors utilize an infrared emitter/detector pair that is directed across the track. A train passing</text>
<text id="t192" x="12.50" y="790.20" class="p" style="font-size:13.5px" textLength="642.61" lengthAdjust="spacingAndGlyphs" xml:space="preserve">between the emitter and detector blocks the IR beam. The basic circuit operates reliably to a maximum emitter/</text>
<text id="t193" x="13.50" y="805.70" class="p" style="font-size:13.5px" textLength="665.80" lengthAdjust="spacingAndGlyphs" xml:space="preserve">detector separation distance of about 5 inches. The sensitivity of the IR detector can be extended by connecting the</text>
<text id="t194" x="13.50" y="820.50" class="p" style="font-size:13.5px" textLength="643.40" lengthAdjust="spacingAndGlyphs" xml:space="preserve">output of the detector to  the LM339 circuit. If used,  the IR detector resistor value should be 470k ohms and the</text>
<text id="t195" x="13.50" y="836.20" class="p" style="font-size:13.5px" textLength="675.00" lengthAdjust="spacingAndGlyphs" xml:space="preserve">detector shielded from stray light. See http://home.cogeco.ca/~rpaisley4/ATDetIR.html for more details. The output of</text>
<text id="t196" x="13.50" y="851.60" class="p" style="font-size:13.5px" textLength="295.41" lengthAdjust="spacingAndGlyphs" xml:space="preserve">the LM339 is high (1) when the IR beam is blocked.</text>
<text id="t197" x="13.50" y="883.20" class="p" style="font-size:13.5px" textLength="678.20" lengthAdjust="spacingAndGlyphs" xml:space="preserve">Turnout position sensors utilize a H21B2 component that contains an infrared emitter and detector. When the beam is</text>
<text id="t198" x="12.50" y="898.00" class="p" style="font-size:13.5px" textLength="440.41" lengthAdjust="spacingAndGlyphs" xml:space="preserve">blocked by a flag mounted on the turnout, the output of the circuit is high (1).</text>
<text id="t199" x="13.50" y="928.60" class="p" style="font-size:13.5px" textLength="636.00" lengthAdjust="spacingAndGlyphs" xml:space="preserve">The 74HC165 components are wired into a 32 bit parallel to serial shift register. Designators P7 through P9 are</text>
<text id="t200" x="13.50" y="944.10" class="p" style="font-size:13.5px" textLength="659.60" lengthAdjust="spacingAndGlyphs" xml:space="preserve">connections from the micro controller I/O pins. Under micro controller program control, the input state of all bits are</text>
<text id="t201" x="12.50" y="959.50" class="p" style="font-size:13.5px" textLength="648.81" lengthAdjust="spacingAndGlyphs" xml:space="preserve">latched; the S/L line is toggled low (0). The data is then shifted serially into the micro controller for processing by</text>
<text id="t202" x="13.50" y="974.30" class="p" style="font-size:13.5px" textLength="216.62" lengthAdjust="spacingAndGlyphs" xml:space="preserve">applying clock pulses to the CLK line.</text>
</svg>

</body></html>
